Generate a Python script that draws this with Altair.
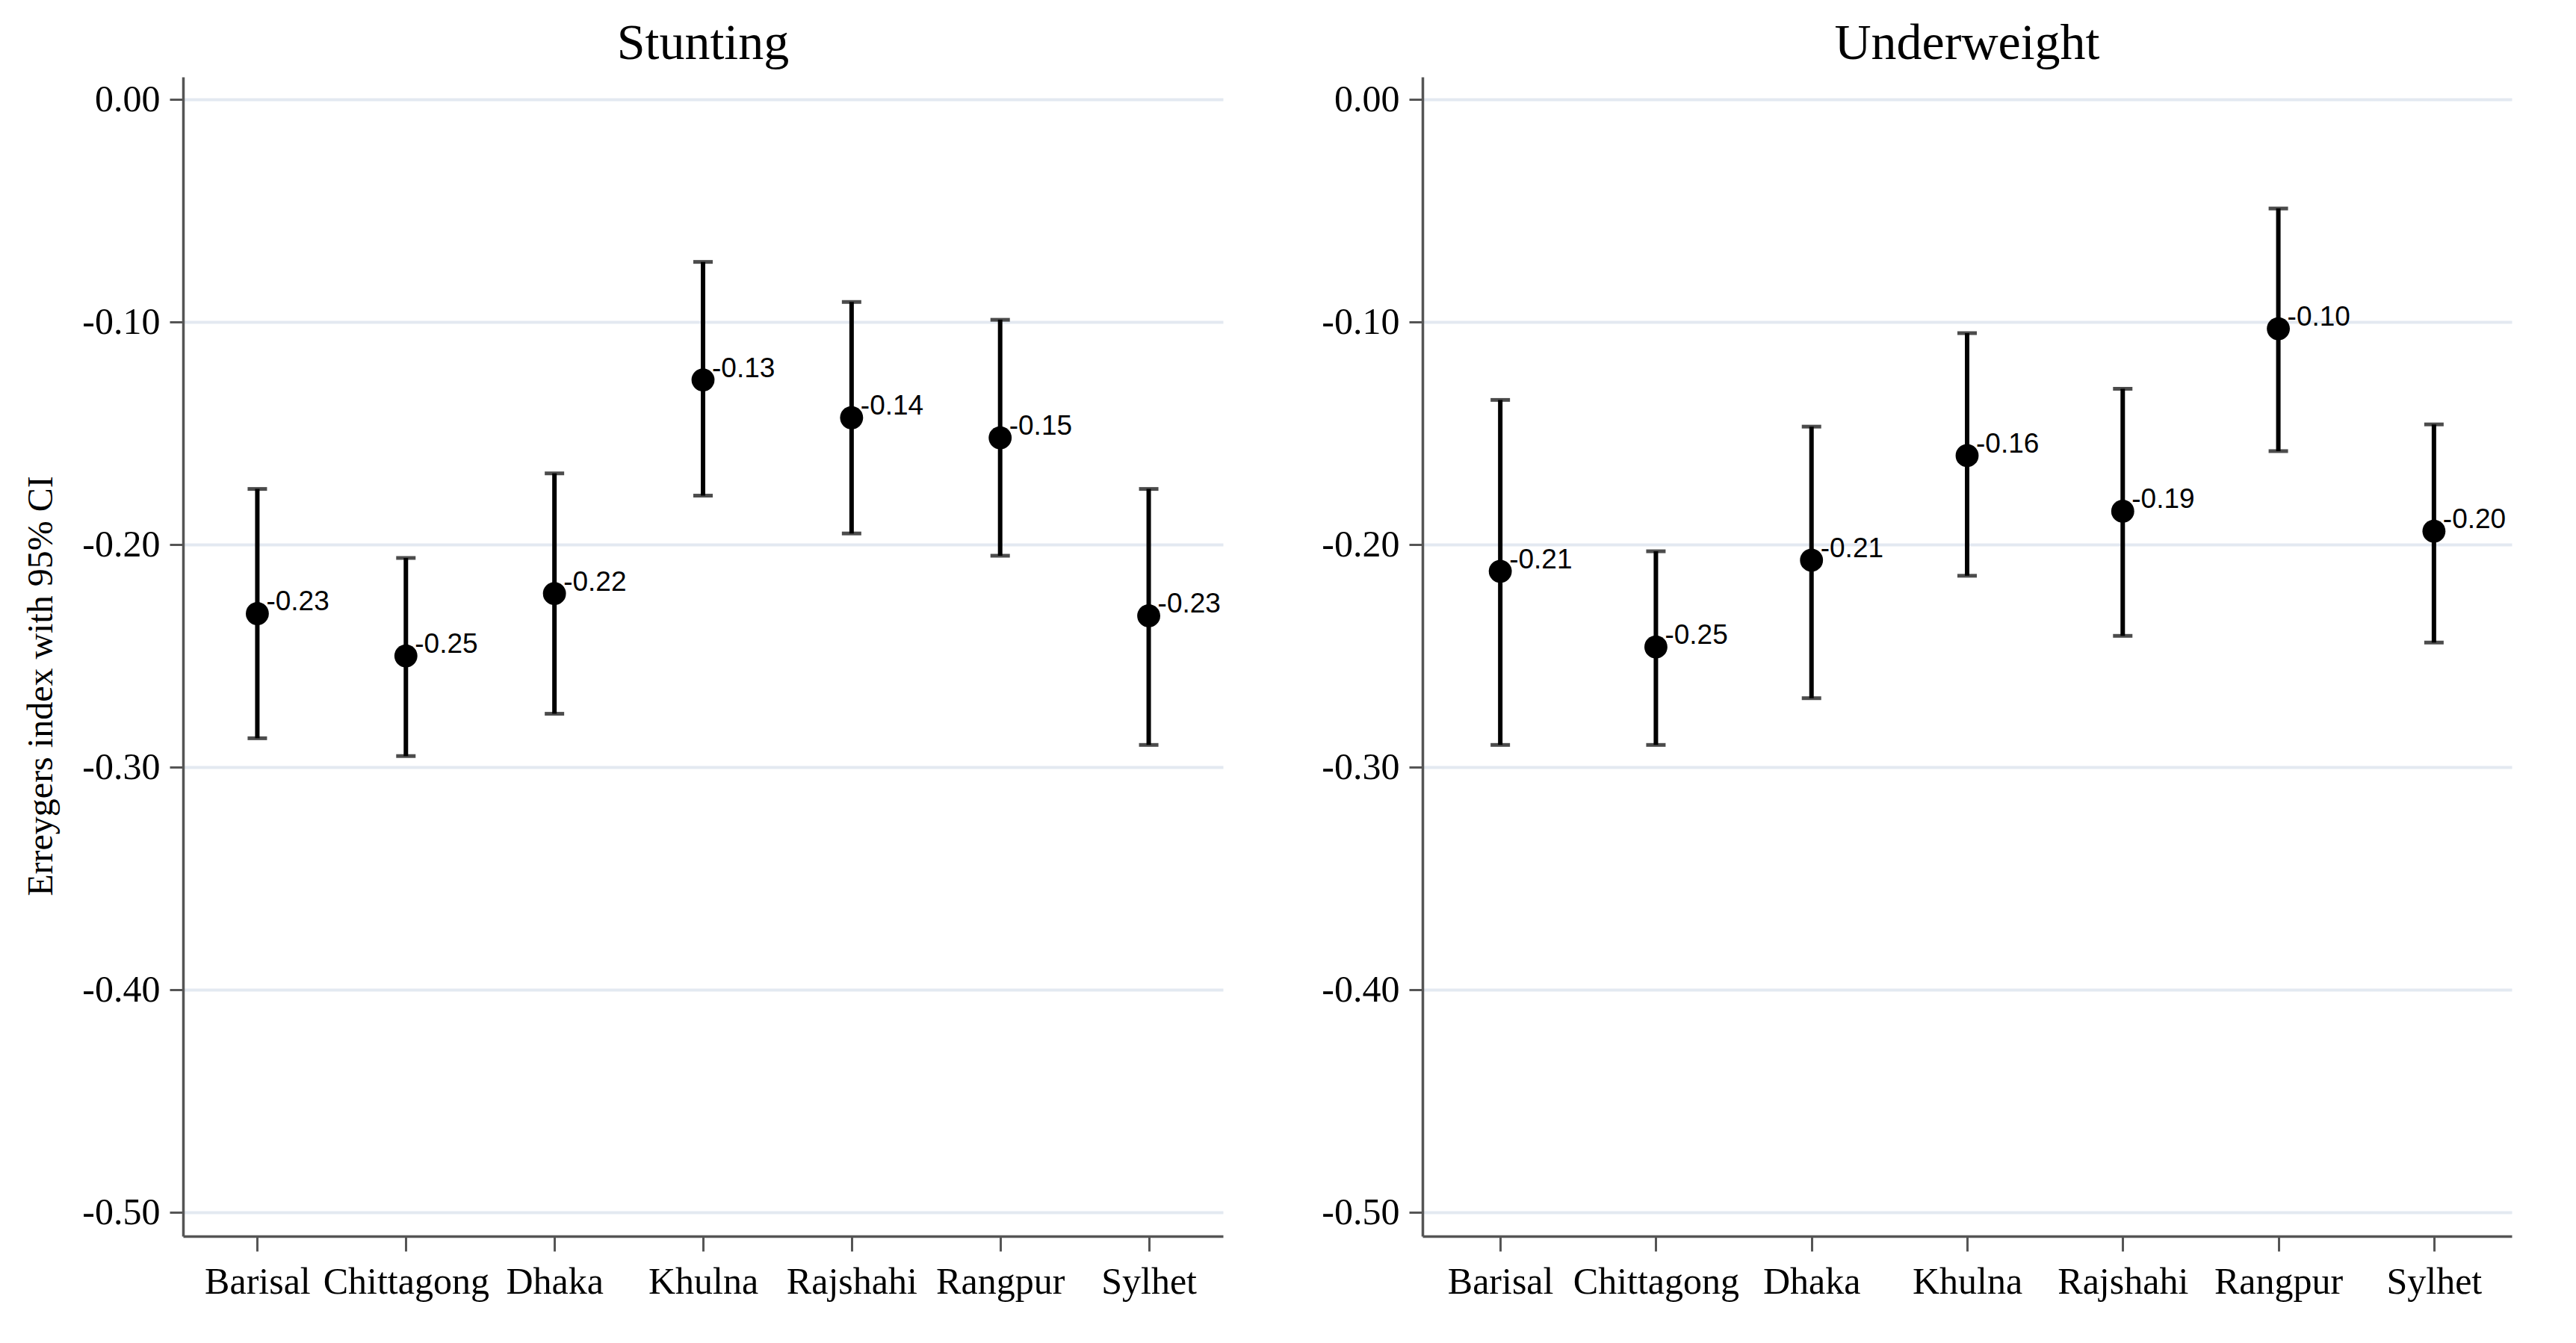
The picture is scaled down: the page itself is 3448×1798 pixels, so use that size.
import altair as alt
import pandas as pd

regions = ["Barisal", "Chittagong", "Dhaka", "Khulna", "Rajshahi", "Rangpur", "Sylhet"]

stunt_est = [-0.231, -0.250, -0.222, -0.126, -0.143, -0.152, -0.232]
stunt_lo = [-0.287, -0.295, -0.276, -0.178, -0.195, -0.205, -0.290]
stunt_hi = [-0.175, -0.206, -0.168, -0.073, -0.091, -0.099, -0.175]
stunt_lab = ["-0.23", "-0.25", "-0.22", "-0.13", "-0.14", "-0.15", "-0.23"]

under_est = [-0.212, -0.246, -0.207, -0.160, -0.185, -0.103, -0.194]
under_lo = [-0.290, -0.290, -0.269, -0.214, -0.241, -0.158, -0.244]
under_hi = [-0.135, -0.203, -0.147, -0.105, -0.130, -0.049, -0.146]
under_lab = ["-0.21", "-0.25", "-0.21", "-0.16", "-0.19", "-0.10", "-0.20"]

y_ticks = [0.0, -0.1, -0.2, -0.3, -0.4, -0.5]
y_domain = [-0.5107, 0.0101]
y_title = "Erreygers index with 95% CI"


def panel(title, est, lo, hi, lab, width, show_title):
    df = pd.DataFrame({"region": regions, "est": est, "lo": lo, "hi": hi, "lab": lab})
    base = alt.Chart(df)
    x = alt.X(
        "region:N",
        sort=regions,
        scale=alt.Scale(type="point", padding=0.5),
        axis=alt.Axis(title=None, labelAngle=0, grid=False, tickSize=20, labelPadding=16,
                      labelLimit=0, labelOverlap=False),
    )
    yscale = alt.Scale(domain=y_domain, nice=False, zero=False)
    if show_title:
        yaxis = alt.Axis(
            values=y_ticks,
            labelExpr="replace(format(datum.value, '.2f'), '\u2212', '-')",
            title=y_title,
            grid=True,
            tickSize=18,
            labelPadding=13,
            titlePadding=30,
            titleY=815,
        )
    else:
        yaxis = alt.Axis(
            values=y_ticks,
            labelExpr="replace(format(datum.value, '.2f'), '\u2212', '-')",
            title=None,
            grid=True,
            tickSize=18,
            labelPadding=13,
        )

    def y(field):
        return alt.Y(field, type="quantitative", scale=yscale, axis=yaxis)

    rule = base.mark_rule(color="black", strokeWidth=6).encode(x=x, y=y("lo"), y2="hi:Q")
    cap_lo = base.mark_tick(color="black", size=26, thickness=5).encode(x=x, y=y("lo"))
    cap_hi = base.mark_tick(color="black", size=26, thickness=5).encode(x=x, y=y("hi"))
    pts = base.mark_circle(size=950, color="black", opacity=1).encode(x=x, y=y("est"))
    txt = base.mark_text(
        align="left", baseline="alphabetic", dx=12, dy=-4,
        font="Liberation Sans", fontSize=37, color="black",
    ).encode(x=x, y=y("est"), text="lab:N")
    return alt.layer(rule, cap_lo, cap_hi, pts, txt).properties(
        width=width,
        height=1552,
        title=alt.TitleParams(
            text=title, font="Liberation Serif", fontSize=68, fontWeight="normal",
            color="black", offset=10, anchor="middle",
        ),
    )


left = panel("Stunting", stunt_est, stunt_lo, stunt_hi, stunt_lab, 1392, True)
right = panel("Underweight", under_est, under_lo, under_hi, under_lab, 1458, False)

chart = (
    alt.hconcat(left, right, spacing=131)
    .properties(
        padding={"left": 23, "top": 17, "right": 5, "bottom": 5},
        background="white",
    )
    .configure_view(stroke=None)
    .configure_axis(
        domainColor="#555555",
        domainWidth=3.5,
        tickColor="#555555",
        tickWidth=3,
        labelFont="Liberation Serif",
        labelFontSize=50,
        labelColor="black",
        gridColor="#e3e9f1",
        gridWidth=4,
        titleFont="Liberation Serif",
        titleFontSize=48,
        titleFontWeight="normal",
        titleColor="black",
    )
)

chart.save("out.html", embed_options={"renderer": "svg", "actions": False})
